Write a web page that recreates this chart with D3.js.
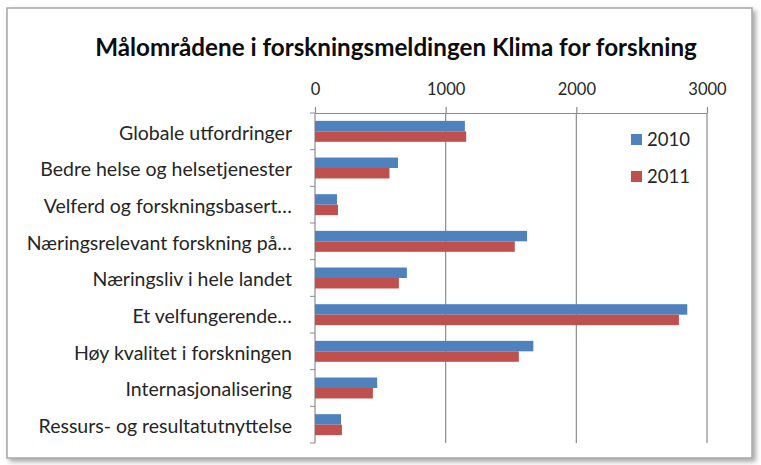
<!DOCTYPE html>
<html>
<head>
<meta charset="utf-8">
<script src="https://cdn.jsdelivr.net/npm/d3@7"></script>
<style>
  body { margin: 0; background: #fff; }
  svg { display: block; font-family: Lato, "Open Sans", sans-serif; }
</style>
</head>
<body>
<div id="chart"></div>
<script>
// data
const categories = [
  "Globale utfordringer",
  "Bedre helse og helsetjenester",
  "Velferd og forskningsbasert…",
  "Næringsrelevant forskning på…",
  "Næringsliv i hele landet",
  "Et velfungerende…",
  "Høy kvalitet i forskningen",
  "Internasjonalisering",
  "Ressurs- og resultatutnyttelse"
];
const series = ["2010", "2011"];
const values2010 = [1147, 635, 168, 1623, 703, 2849, 1671, 476, 199];
const values2011 = [1157, 570, 176, 1529, 642, 2785, 1560, 443, 206];
const xTicks = [0, 1000, 2000, 3000];
const colors = ["#4f81bd", "#c0504d"];

const width = 761, height = 465;
const margin = { top: 113, right: 54, bottom: 22, left: 315 };

const svg = d3.select("#chart").append("svg")
    .attr("width", width)
    .attr("height", height);

// frame with soft shadow
const defs = svg.append("defs");
const f = defs.append("filter").attr("id", "shadow")
    .attr("x", "-5%").attr("y", "-5%").attr("width", "110%").attr("height", "112%");
f.append("feDropShadow").attr("dx", 3).attr("dy", 3).attr("stdDeviation", 2.5)
    .attr("flood-color", "#000").attr("flood-opacity", 0.35);

svg.append("rect")
    .attr("x", 7).attr("y", 8).attr("width", 745).attr("height", 450)
    .attr("fill", "#fff")
    .attr("stroke", "#a6a6a6")
    .attr("stroke-width", 1.5)
    .attr("filter", "url(#shadow)");

const x = d3.scaleLinear()
    .domain([0, 3000])
    .range([margin.left, width - margin.right]);

const y = d3.scaleBand()
    .domain(categories)
    .range([margin.top, height - margin.bottom])
    .padding(0);

const ySub = d3.scaleBand()
    .domain(series)
    .range([0, y.bandwidth()])
    .paddingInner(0)
    .paddingOuter(0.75);

// gridlines
svg.append("g")
  .selectAll("line")
  .data(xTicks.slice(1))
  .join("line")
    .attr("x1", d => x(d)).attr("x2", d => x(d))
    .attr("y1", margin.top).attr("y2", height - margin.bottom)
    .attr("stroke", "#8c8c8c")
    .attr("stroke-width", 1.2);

// top axis
const xAxis = g => g
    .attr("transform", `translate(0,${margin.top})`)
    .call(d3.axisTop(x).tickValues(xTicks).tickFormat(d3.format("d"))
        .tickSize(6).tickPadding(12).tickSizeOuter(0))
    .call(g => g.selectAll("line, path").attr("stroke", "#8c8c8c").attr("stroke-width", 1.2))
    .call(g => g.selectAll("text")
        .attr("font-size", 16.5)
        .attr("font-family", "Lato, sans-serif")
        .attr("fill", "#262626"));
svg.append("g").call(xAxis);

// left axis, ticks at band edges
svg.append("g")
  .selectAll("line")
  .data(d3.range(categories.length + 1))
  .join("line")
    .attr("x1", margin.left - 5).attr("x2", margin.left)
    .attr("y1", i => margin.top + i * y.step())
    .attr("y2", i => margin.top + i * y.step())
    .attr("stroke", "#8c8c8c");
svg.append("line")
    .attr("x1", margin.left).attr("x2", margin.left)
    .attr("y1", margin.top).attr("y2", height - margin.bottom)
    .attr("stroke", "#8c8c8c")
    .attr("stroke-width", 1.2);

svg.append("g")
  .selectAll("text")
  .data(categories)
  .join("text")
    .attr("x", margin.left - 23)
    .attr("y", d => y(d) + y.bandwidth() / 2)
    .attr("dy", "0.42em")
    .attr("text-anchor", "end")
    .attr("font-size", 19.5)
    .attr("fill", "#262626")
    .text(d => d);

// bars
const rows = categories.map((c, i) => ({ cat: c, vals: [values2010[i], values2011[i]] }));
svg.append("g")
  .selectAll("g")
  .data(rows)
  .join("g")
    .attr("transform", d => `translate(0,${y(d.cat)})`)
  .selectAll("rect")
  .data(d => d.vals.map((v, j) => ({ key: series[j], v, j })))
  .join("rect")
    .attr("x", x(0))
    .attr("y", d => ySub(d.key))
    .attr("width", d => x(d.v) - x(0))
    .attr("height", ySub.bandwidth())
    .attr("fill", d => colors[d.j]);

// legend
const legend = svg.append("g")
  .selectAll("g")
  .data(series)
  .join("g")
    .attr("transform", (d, i) => `translate(631,${134 + i * 37})`);
legend.append("rect")
    .attr("width", 11).attr("height", 11)
    .attr("fill", (d, i) => colors[i]);
legend.append("text")
    .attr("x", 16).attr("y", 12)
    .attr("font-size", 18.5)
    .attr("fill", "#262626")
    .text(d => d);

// title
const title = svg.append("text")
    .attr("x", 396).attr("y", 56)
    .attr("text-anchor", "middle")
    .attr("font-size", 20)
    .attr("font-weight", "bold")
    .attr("fill", "#0d0d0d")
    .text("Målområdene i forskningsmeldingen Klima for forskning");
const tw = title.node().getComputedTextLength();
title.attr("font-size", 20 * 602 / tw);
</script>
</body>
</html>
